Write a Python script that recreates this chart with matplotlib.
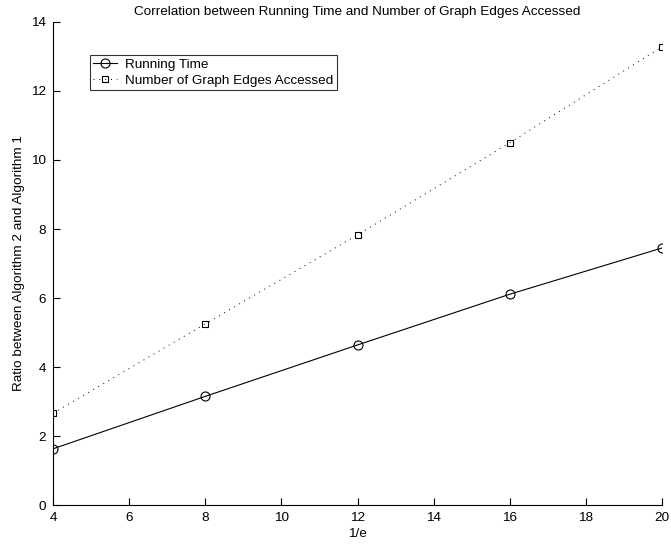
import matplotlib
matplotlib.use("Agg")
import matplotlib.pyplot as plt

plt.rcParams["font.family"] = ["Liberation Sans", "DejaVu Sans"]
plt.rcParams["font.size"] = 9.7

inv_e = [4, 8, 12, 16, 20]
running_time = [1.63, 3.15, 4.64, 6.11, 7.45]
edges_accessed = [2.66, 5.25, 7.83, 10.5, 13.28]

fig = plt.figure(figsize=(6.71, 5.49), dpi=100)
ax = fig.add_axes([0.079, 0.080, 0.9076, 0.880])

ax.plot(inv_e, running_time, color="black", linewidth=0.8, marker="o",
        markersize=6.5, markerfacecolor="none", markeredgewidth=0.8,
        label="Running Time")
ax.plot(inv_e, edges_accessed, color="black", linewidth=0.7, linestyle=(0, (1, 5)),
        marker="s", markersize=5, markerfacecolor="none", markeredgewidth=0.8,
        label="Number of Graph Edges Accessed")

ax.set_xlim(4, 20)
ax.set_ylim(0, 14)
ax.set_xticks(range(4, 21, 2))
ax.set_yticks(range(0, 15, 2))
ax.spines["top"].set_visible(False)
ax.spines["right"].set_visible(False)
ax.tick_params(direction="in", length=5, width=0.8, pad=5)
for s in ("left", "bottom"):
    ax.spines[s].set_linewidth(0.8)

ax.set_xlabel("1/e", labelpad=3)
ax.set_ylabel("Ratio between Algorithm 2 and Algorithm 1")
ax.set_title("Correlation between Running Time and Number of Graph Edges Accessed",
             fontsize=9.7, pad=5)

leg = ax.legend(loc="upper left", bbox_to_anchor=(0.060, 0.932), frameon=True,
                fancybox=False, edgecolor="black", borderpad=0.25,
                borderaxespad=0, handlelength=1.8, handletextpad=0.6,
                labelspacing=0.3)
leg.get_frame().set_linewidth(0.8)

fig.savefig("out.png", dpi=100)
